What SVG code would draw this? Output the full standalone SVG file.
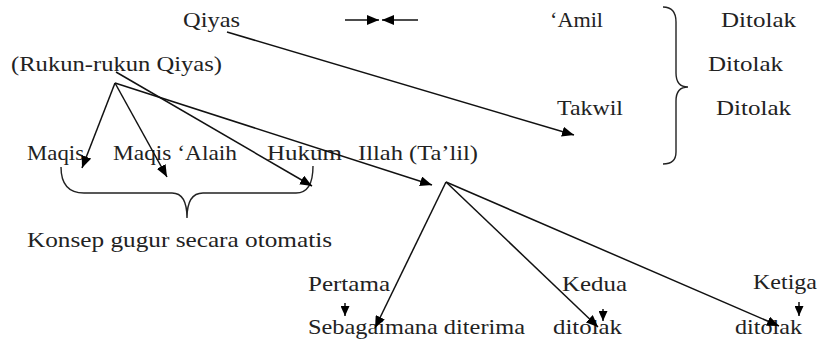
<svg xmlns="http://www.w3.org/2000/svg" width="820" height="343" viewBox="0 0 820 343">
  <style>
    .t { font-size: 22px; fill: #222; }
    .ln { stroke: #111; stroke-width: 1.5; fill: none; }
    .br { stroke: #222; stroke-width: 1.4; fill: none; }
  </style>
  <defs>
    <marker id="ah" viewBox="0 0 12 10" refX="12" refY="5" markerWidth="12" markerHeight="10" markerUnits="userSpaceOnUse" orient="auto">
      <path d="M0,0 L12,5 L0,10 Z" fill="#000"/>
    </marker>
    <marker id="ahs" viewBox="0 0 10 9" refX="10" refY="4.5" markerWidth="10" markerHeight="9" markerUnits="userSpaceOnUse" orient="auto">
      <path d="M0,0 L10,4.5 L0,9 Z" fill="#000"/>
    </marker>
  </defs>

  <rect width="820" height="343" fill="#fff"/>

  <!-- labels -->
  <g class="t" font-family="'Liberation Serif', 'Times New Roman', Times, serif">
    <g id="qiyas"><text x="183" y="27" textLength="57" lengthAdjust="spacingAndGlyphs">Qiyas</text></g>
    <g id="amil"><text x="550" y="27" textLength="53" lengthAdjust="spacingAndGlyphs">‘Amil</text></g>
    <g id="ditolak-1"><text x="721" y="27" textLength="75" lengthAdjust="spacingAndGlyphs">Ditolak</text></g>
    <g id="rukun"><text x="11" y="71" textLength="211" lengthAdjust="spacingAndGlyphs">(Rukun-rukun Qiyas)</text></g>
    <g id="ditolak-2"><text x="708" y="71" textLength="75" lengthAdjust="spacingAndGlyphs">Ditolak</text></g>
    <g id="takwil"><text x="557" y="115" textLength="66" lengthAdjust="spacingAndGlyphs">Takwil</text></g>
    <g id="ditolak-3"><text x="716" y="115" textLength="75" lengthAdjust="spacingAndGlyphs">Ditolak</text></g>
    <g id="maqis"><text x="27" y="160" textLength="57" lengthAdjust="spacingAndGlyphs">Maqis</text></g>
    <g id="maqis-alaih"><text x="113" y="160" textLength="124" lengthAdjust="spacingAndGlyphs">Maqis ‘Alaih</text></g>
    <g id="hukum"><text x="267" y="160" textLength="75" lengthAdjust="spacingAndGlyphs">Hukum</text></g>
    <g id="illah"><text x="358" y="160" textLength="120" lengthAdjust="spacingAndGlyphs">Illah (Ta’lil)</text></g>
    <g id="konsep"><text x="27" y="247" textLength="305" lengthAdjust="spacingAndGlyphs">Konsep gugur secara otomatis</text></g>
    <g id="pertama"><text x="308" y="291" textLength="82" lengthAdjust="spacingAndGlyphs">Pertama</text></g>
    <g id="kedua"><text x="562" y="291" textLength="65" lengthAdjust="spacingAndGlyphs">Kedua</text></g>
    <g id="ketiga"><text x="753" y="289" textLength="64" lengthAdjust="spacingAndGlyphs">Ketiga</text></g>
    <g id="sebagaimana"><text x="308" y="334" textLength="217" lengthAdjust="spacingAndGlyphs">Sebagaimana diterima</text></g>
    <g id="ditolak-kedua"><text x="553" y="334" textLength="69" lengthAdjust="spacingAndGlyphs">ditolak</text></g>
    <g id="ditolak-ketiga"><text x="735" y="334" textLength="67" lengthAdjust="spacingAndGlyphs">ditolak</text></g>
  </g>

  <!-- braces -->
  <g id="braces">
    <path class="br" d="M61,167 C61,184 69,193 84,193 L172,193 C182,193 187,201 187,218 C187,201 193,193 203,193 L296,193 C308,193 313,182 313,166"/>
    <path class="br" d="M663,7 C672,7 676,12 676,22 L676,73 C676,82 680,87 688,87 C680,87 676,92 676,101 L676,152 C676,160 672,164 663,164"/>
  </g>

  <!-- connectors -->
  <g id="connectors">
    <line class="ln" x1="345" y1="20" x2="379" y2="20" marker-end="url(#ah)"/>
    <line class="ln" x1="418" y1="20" x2="382" y2="20" marker-end="url(#ah)"/>
    <line class="ln" x1="227" y1="32" x2="574" y2="135" marker-end="url(#ah)"/>
    <line class="ln" x1="115" y1="83" x2="82" y2="168" marker-end="url(#ah)"/>
    <line class="ln" x1="115" y1="83" x2="167" y2="177" marker-end="url(#ah)"/>
    <line class="ln" x1="115" y1="83" x2="432" y2="185" marker-end="url(#ah)"/>
    <line class="ln" x1="116" y1="72" x2="312" y2="186" marker-end="url(#ah)"/>
    <line class="ln" x1="446" y1="182" x2="375" y2="328" marker-end="url(#ah)"/>
    <line class="ln" x1="446" y1="182" x2="598" y2="327" marker-end="url(#ah)"/>
    <line class="ln" x1="446" y1="182" x2="779" y2="326" marker-end="url(#ah)"/>
    <line class="ln" x1="345" y1="303" x2="345" y2="316" marker-end="url(#ahs)"/>
    <line class="ln" x1="603" y1="309" x2="603" y2="321" marker-end="url(#ahs)"/>
    <line class="ln" x1="799" y1="302" x2="799" y2="316" marker-end="url(#ahs)"/>
  </g>
</svg>
